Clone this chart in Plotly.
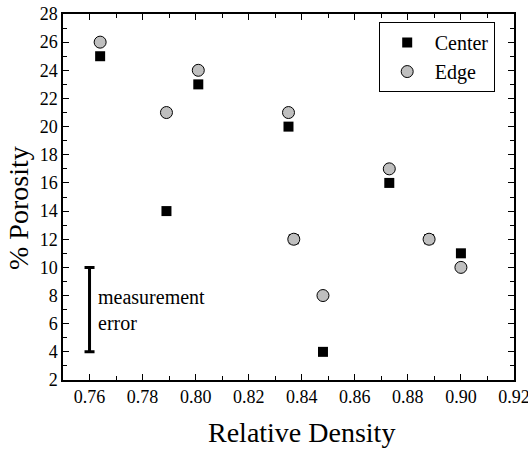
import plotly.graph_objects as go

density_center = [0.764, 0.789, 0.801, 0.835, 0.837, 0.848, 0.873, 0.888, 0.900]
porosity_center = [25, 14, 23, 20, 12, 4, 16, 12, 11]
density_edge = [0.764, 0.789, 0.801, 0.835, 0.837, 0.848, 0.873, 0.888, 0.900]
porosity_edge = [26, 21, 24, 21, 12, 8, 17, 12, 10]
err_x = [0.76]
err_mid = [7]
err_half = [3]

FONT = "Liberation Serif"

fig = go.Figure()
fig.add_trace(go.Scatter(
    x=density_center, y=porosity_center, mode="markers", name="Center",
    marker=dict(symbol="square", size=10, color="black", line=dict(width=0))))
fig.add_trace(go.Scatter(
    x=density_edge, y=porosity_edge, mode="markers", name="Edge",
    marker=dict(symbol="circle", size=12, color="#bfbfbf", line=dict(width=1, color="black"))))
fig.add_trace(go.Scatter(
    x=err_x, y=err_mid, mode="markers", showlegend=False,
    marker=dict(size=1, color="rgba(0,0,0,0)"),
    error_y=dict(type="data", array=err_half, symmetric=True, color="black", thickness=3, width=5)))

fig.add_annotation(x=0.7625, y=7, xref="x", yref="y", text="measurement<br>error",
                   showarrow=False, xanchor="left", align="left",
                   font=dict(family=FONT, size=20, color="black"))

# axis titles (slightly offset from centre, as in the reference)
fig.add_annotation(x=0.528, y=0, xref="paper", yref="paper", yshift=-52,
                   text="Relative Density", showarrow=False, xanchor="center", yanchor="middle",
                   font=dict(family=FONT, size=28, color="black"))
fig.add_annotation(x=0, y=0.47, xref="paper", yref="paper", xshift=-44,
                   text="% Porosity", textangle=-90, showarrow=False, xanchor="center", yanchor="middle",
                   font=dict(family=FONT, size=28, color="black"))

axis_common = dict(showline=True, linecolor="black", linewidth=1.5, mirror="ticks",
                   ticks="inside", ticklen=6, tickwidth=1.2, tickcolor="black",
                   showgrid=False, zeroline=False, ticklabeloverflow="allow", automargin=False,
                   tickfont=dict(family=FONT, size=18, color="black"))

fig.update_xaxes(range=[0.75, 0.92001], tick0=0.76, dtick=0.02, tickformat=".2f",
                 minor=dict(ticks="inside", ticklen=4, dtick=0.01, tick0=0.75, tickcolor="black", showgrid=False),
                 **axis_common)
fig.update_yaxes(range=[2, 28], tick0=2, dtick=2,
                 minor=dict(ticks="inside", ticklen=4, dtick=1, tick0=2, tickcolor="black", showgrid=False),
                 **axis_common)

fig.update_layout(
    width=528, height=450,
    margin=dict(l=63, r=14, t=14, b=70),
    plot_bgcolor="white", paper_bgcolor="white",
    legend=dict(x=0.70, y=0.978, xanchor="left", yanchor="top",
                bordercolor="black", borderwidth=1, bgcolor="white",
                font=dict(family=FONT, size=20, color="black"),
                itemwidth=45, entrywidth=92, tracegroupgap=0),
)

fig.write_html("out.html")
